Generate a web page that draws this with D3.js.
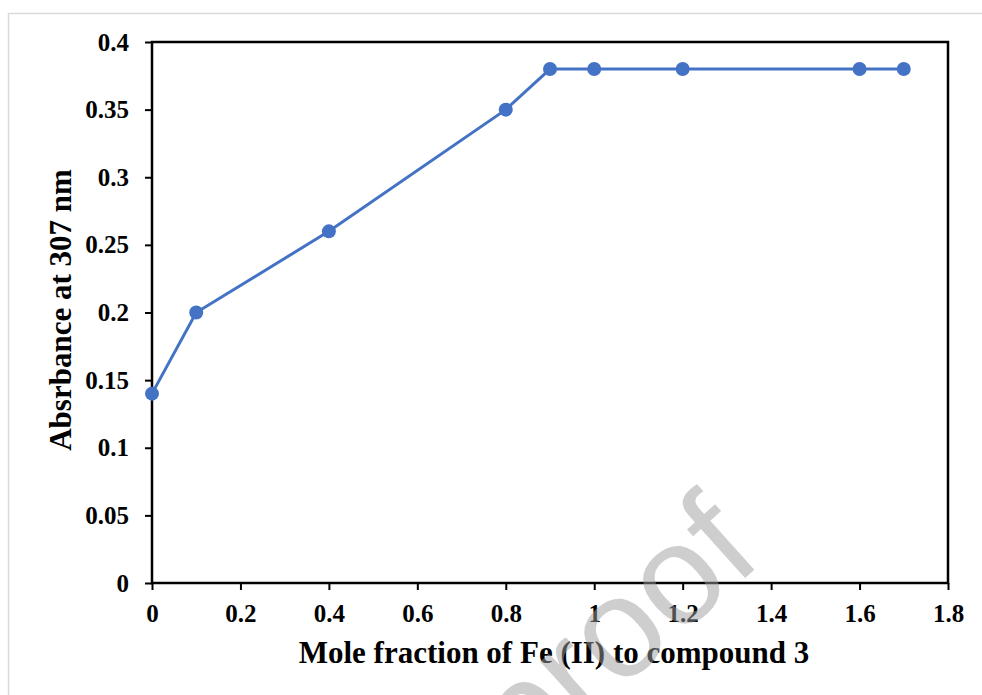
<!DOCTYPE html>
<html>
<head>
<meta charset="utf-8">
<script src="https://cdn.jsdelivr.net/npm/d3@7"></script>
<style>
  body { margin: 0; background: #fff; }
  svg { display: block; }
  .tick text { font-family: "Liberation Serif", "Times New Roman", serif; font-weight: bold; font-size: 25px; fill: #000; }
</style>
</head>
<body>
<div id="chart-area"></div>
<script>
// data
let moleFraction = [0, 0.1, 0.4, 0.8, 0.9, 1, 1.2, 1.6, 1.7];
let absorbance = [0.14, 0.2, 0.26, 0.35, 0.38, 0.38, 0.38, 0.38, 0.38];
let xTicks = [0, 0.2, 0.4, 0.6, 0.8, 1, 1.2, 1.4, 1.6, 1.8];
let yTicks = [0, 0.05, 0.1, 0.15, 0.2, 0.25, 0.3, 0.35, 0.4];

let W = 982, H = 695;
let margin = {top: 42, right: 34, bottom: 112, left: 152};
let width = W - margin.left - margin.right;
let height = H - margin.top - margin.bottom;
let color = "#4472C4";

let root = d3.select("#chart-area").append("svg")
	.attr("width", W)
	.attr("height", H);

// light outer frame
root.append("rect")
	.attr("x", 8.5).attr("y", 13.5)
	.attr("width", W).attr("height", H)
	.attr("fill", "none")
	.attr("stroke", "#d9d9d9")
	.attr("stroke-width", 1.5);

let svg = root.append("g")
	.attr("transform", "translate(" + margin.left + "," + margin.top + ")");

// Scales
let x = d3.scaleLinear().domain([0, 1.8]).range([0, width]);
let y = d3.scaleLinear().domain([0, 0.4]).range([height, 0]);

let fmt = d => d3.format("")(+d.toFixed(2));

let xAxis = d3.axisBottom(x)
	.tickValues(xTicks)
	.tickSize(7)
	.tickPadding(14)
	.tickFormat(fmt);
let yAxis = d3.axisLeft(y)
	.tickValues(yTicks)
	.tickSize(7)
	.tickPadding(16)
	.tickFormat(fmt);

svg.append("g")
	.attr("class", "x-axis axis")
	.attr("transform", "translate(0," + height + ")")
	.call(xAxis);
svg.append("g")
	.attr("class", "y-axis axis")
	.call(yAxis);

svg.selectAll(".axis .domain").remove();
svg.selectAll(".axis line").attr("stroke", "#000").attr("stroke-width", 2);

// plot frame
svg.append("rect")
	.attr("width", width).attr("height", height)
	.attr("fill", "none")
	.attr("stroke", "#000")
	.attr("stroke-width", 2.5);

// line + markers
let points = moleFraction.map((m, i) => ({x: m, y: absorbance[i]}));

svg.append("path")
	.datum(points)
	.attr("fill", "none")
	.attr("stroke", color)
	.attr("stroke-width", 3)
	.attr("d", d3.line().x(d => x(d.x)).y(d => y(d.y)));

svg.selectAll("circle")
	.data(points)
	.enter()
	.append("circle")
	.attr("cx", d => x(d.x))
	.attr("cy", d => y(d.y))
	.attr("r", 7)
	.attr("fill", color);

// axis titles
root.append("text")
	.attr("x", 554).attr("y", 663)
	.attr("text-anchor", "middle")
	.style("font-family", "'Liberation Serif', 'Times New Roman', serif")
	.style("font-weight", "bold")
	.style("font-size", "31px")
	.text("Mole fraction of Fe (II) to compound 3");

root.append("text")
	.attr("transform", "translate(71,310) rotate(-90)")
	.attr("text-anchor", "middle")
	.style("font-family", "'Liberation Serif', 'Times New Roman', serif")
	.style("font-weight", "bold")
	.style("font-size", "31px")
	.text("Absrbance at 307 nm");

// watermark
root.append("text")
	.attr("transform", "translate(765,560) rotate(-42)")
	.attr("text-anchor", "end")
	.style("font-family", "'Liberation Sans', Arial, sans-serif")
	.style("font-size", "142px")
	.attr("fill", "#9d9d9d")
	.attr("fill-opacity", 0.5)
	.text("Journal Pre-proof");
</script>
</body>
</html>
